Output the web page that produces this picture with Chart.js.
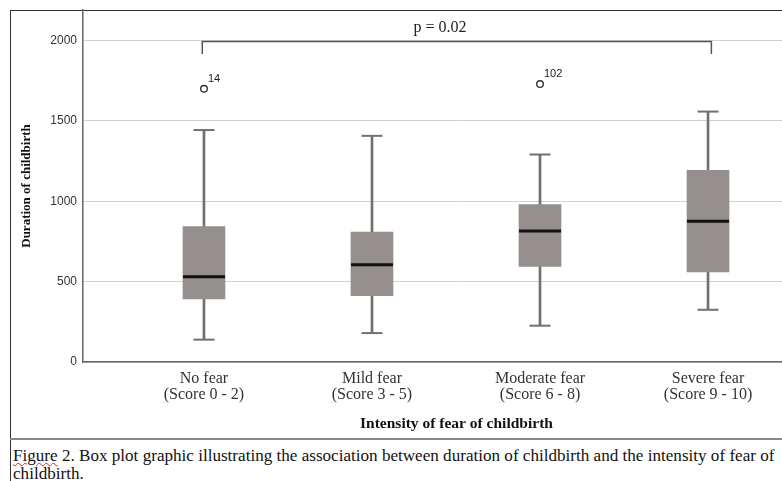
<!DOCTYPE html>
<html lang="en">
<head>
    <meta charset="UTF-8">
    <title>Box plot</title>
    <script src="https://cdn.jsdelivr.net/npm/chart.js"></script>
    <style>
      html, body { margin: 0; padding: 0; overflow: hidden; background: #fff; }
      #frame { position: absolute; left: 10px; top: 10px; width: 900px; height: 500px;
               border-left: 1.5px solid #333; border-top: 1.5px solid #333; }
      #rule { position: absolute; left: 10px; top: 438px; width: 900px; height: 0;
              border-top: 2px solid #888; }
      #chart { position: absolute; left: 0; top: 0; }
      #caption { position: absolute; left: 13px; top: 447px; white-space: nowrap;
                 font: 17.1px "Liberation Serif", serif; line-height: 18px; color: #111; }
      #caption .sp { text-decoration: underline wavy #d22; text-decoration-thickness: 1px; }
    </style>
</head>
<body>
  <div id="frame"></div>
  <div id="rule"></div>
  <canvas id="chart" width="830" height="440"></canvas>
  <div id="caption"><span class="sp">Figure</span> 2. Box plot graphic illustrating the association between duration of childbirth and the intensity of fear of<br>childbirth.</div>

  <script>
    // groups on the x axis
    const categories = [['No fear', '(Score 0 - 2)'], ['Mild fear', '(Score 3 - 5)'],
                        ['Moderate fear', '(Score 6 - 8)'], ['Severe fear', '(Score 9 - 10)']];
    // box plot statistics
    const whiskerLow  = [139, 180, 226, 325];
    const q1          = [392, 412, 595, 560];
    const medians     = [530, 605, 815, 875];
    const q3          = [842, 808, 980, 1192];
    const whiskerHigh = [1443, 1407, 1291, 1558];
    // outliers: group index (1-based), value, case id
    const outlierX   = [1, 3];
    const outlierY   = [1700, 1729];
    const outlierIds = ['14', '102'];
    const yTicks = [0, 500, 1000, 1500, 2000];
    // significance bracket
    const bracketX = [0.99, 4.02];
    const bracketY = [1917, 1994];
    const pText = 'p = 0.02';

    const xs = categories.map((c, i) => i + 1);
    const grey = '#707070';

    const labelPlugin = {
      id: 'labels',
      afterDatasetsDraw(chart) {
        const ctx = chart.ctx;
        const xS = chart.scales.x, yS = chart.scales.y;
        ctx.save();
        ctx.fillStyle = '#222';
        ctx.font = '11px "Liberation Sans", sans-serif';
        ctx.textBaseline = 'alphabetic';
        ctx.textAlign = 'left';
        outlierIds.forEach((id, i) => {
          const px = xS.getPixelForValue(outlierX[i]);
          const py = yS.getPixelForValue(outlierY[i]);
          ctx.fillText(id, px + 4, py - 7);
        });
        ctx.font = '16px "Liberation Serif", serif';
        ctx.textAlign = 'center';
        ctx.textBaseline = 'middle';
        ctx.fillText(pText, xS.getPixelForValue(2.405), yS.getPixelForValue(2080));
        ctx.restore();
      }
    };

    new Chart(document.getElementById('chart'), {
      type: 'bar',
      data: {
        datasets: [
          { // whisker stems
            type: 'bar', order: 6, grouped: false, barThickness: 2,
            data: xs.map((x, i) => ({ x: x, y: [whiskerLow[i], whiskerHigh[i]] })),
            backgroundColor: grey
          },
          { // boxes
            type: 'bar', order: 5, grouped: false, barThickness: 42,
            data: xs.map((x, i) => ({ x: x, y: [q1[i], q3[i]] })),
            backgroundColor: '#958f8e'
          },
          { // whisker caps
            type: 'scatter', order: 4,
            data: xs.map((x, i) => ({ x: x, y: whiskerLow[i] }))
                    .concat(xs.map((x, i) => ({ x: x, y: whiskerHigh[i] }))),
            pointStyle: 'line', pointRadius: 10.5, borderWidth: 2, borderColor: grey
          },
          { // medians
            type: 'scatter', order: 3,
            data: xs.map((x, i) => ({ x: x, y: medians[i] })),
            pointStyle: 'line', pointRadius: 21, borderWidth: 3, borderColor: '#111'
          },
          { // outliers
            type: 'scatter', order: 2,
            data: outlierX.map((x, i) => ({ x: x, y: outlierY[i] })),
            pointStyle: 'circle', pointRadius: 3.3, borderWidth: 1.4,
            borderColor: '#333', backgroundColor: '#fff'
          },
          { // bracket
            type: 'scatter', order: 1, showLine: true, pointRadius: 0,
            data: [{ x: bracketX[0], y: bracketY[0] }, { x: bracketX[0], y: bracketY[1] },
                   { x: bracketX[1], y: bracketY[1] }, { x: bracketX[1], y: bracketY[0] }],
            borderColor: '#555', borderWidth: 1.5
          }
        ]
      },
      options: {
        responsive: false,
        animation: false,
        layout: { autoPadding: false, padding: { top: 10, left: 0, right: 0, bottom: 0 } },
        plugins: { legend: { display: false }, tooltip: { enabled: false } },
        scales: {
          x: {
            type: 'linear', min: 0.28, max: 4.726, offset: false,
            afterBuildTicks: s => { s.ticks = xs.map(v => ({ value: v })); },
            afterFit: s => { s.height = 78; s.paddingLeft = 0; s.paddingRight = 0; },
            grid: { display: false },
            border: { display: true, color: '#666', width: 1.5 },
            ticks: {
              callback: v => categories[v - 1], maxRotation: 0, autoSkip: false,
              padding: 1, color: '#333',
              font: { family: '"Liberation Serif", serif', size: 16, lineHeight: 1.0 }
            },
            title: {
              display: true, text: 'Intensity of fear of childbirth', color: '#111',
              font: { family: '"Liberation Serif", serif', size: 15.5, weight: 'bold', lineHeight: 1.2 },
              padding: { top: 0, bottom: 7 }
            }
          },
          y: {
            min: 0, max: 2190,
            afterBuildTicks: s => { s.ticks = yTicks.map(v => ({ value: v })); },
            afterFit: s => { s.width = 83; s.paddingTop = 0; s.paddingBottom = 0; },
            grid: { color: '#d2d2d2', lineWidth: 1, drawTicks: false },
            border: { display: true, color: '#666', width: 1.5 },
            ticks: {
              padding: 6, color: '#333', callback: v => String(v),
              font: { family: '"Liberation Sans", sans-serif', size: 12 }
            },
            title: {
              display: true, text: 'Duration of childbirth', color: '#111',
              font: { family: '"Liberation Serif", serif', size: 13, weight: 'bold', lineHeight: 1.2 },
              padding: { top: 19, bottom: 0 }
            }
          }
        }
      },
      plugins: [labelPlugin]
    });
  </script>
</body>
</html>
